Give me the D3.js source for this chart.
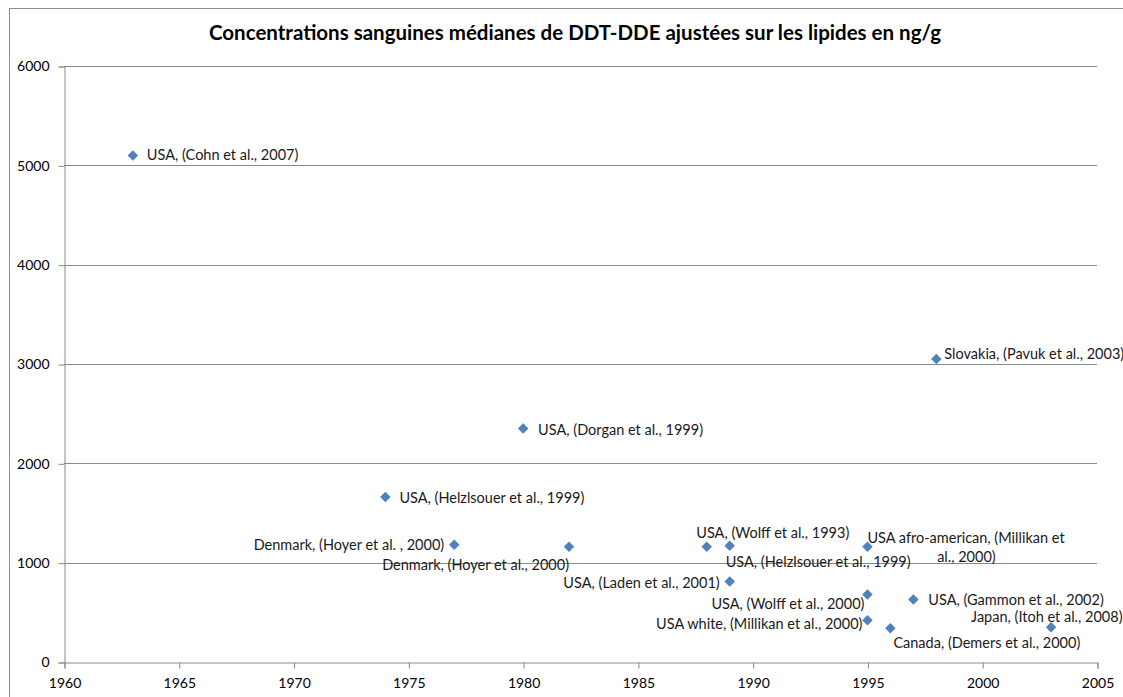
<!DOCTYPE html>
<html><head><meta charset="utf-8">
<script src="https://cdn.jsdelivr.net/npm/d3@7"></script>
<style>
html,body{margin:0;padding:0;background:#fff;}
svg text{font-family:Lato,"Open Sans",sans-serif;}
</style></head>
<body>
<svg id="c" width="1123" height="697"></svg>
<script>
const title = "Concentrations sanguines médianes de DDT-DDE ajustées sur les lipides en ng/g";
const years  = [1963, 1998, 1980, 1974, 1977, 1982, 1988, 1989, 1995, 1989, 1995, 1997, 1995, 1996, 2003];
const values = [5100, 3050, 2350, 1660, 1180, 1160, 1160, 1170, 1160, 810, 680, 630, 420, 340, 350];
const labels = [
  "USA, (Cohn et al., 2007)",
  "Slovakia, (Pavuk et al., 2003)",
  "USA, (Dorgan et al.,  1999)",
  "USA, (Helzlsouer et al., 1999)",
  "Denmark, (Hoyer et al. , 2000)",
  "Denmark, (Hoyer et al., 2000)",
  "USA, (Wolff et al., 1993)",
  "USA, (Helzlsouer et al., 1999)",
  "USA afro-american, (Millikan  et|al., 2000)",
  "USA, (Laden et al., 2001)",
  "USA, (Wolff et al., 2000)",
  "USA, (Gammon  et al., 2002)",
  "USA white, (Millikan  et al., 2000)",
  "Canada, (Demers et al., 2000)",
  "Japan, (Itoh  et al.,  2008)"
];
const xTicks = [1960, 1965, 1970, 1975, 1980, 1985, 1990, 1995, 2000, 2005];
const yTicks = [0, 1000, 2000, 3000, 4000, 5000, 6000];

// label placement (layout): [dx, dy, anchor]
const labelLayout = [
  [14, 5, "start"],
  [8, 0, "start"],
  [15, 6, "start"],
  [14, 6, "start"],
  [-10, 5, "end"],
  [0, 23, "end"],
  [66, -9, "middle"],
  [-4, 21, "start"],
  [0, -4, "start"],
  [-10, 6, "end"],
  [-3, 15, "end"],
  [15, 6, "start"],
  [-5, 9, "end"],
  [3, 20, "start"],
  [-80, -5, "start"]
];

const svg = d3.select("#c");
const x = d3.scaleLinear().domain([1960, 2005]).range([64, 1097]);
const y = d3.scaleLinear().domain([0, 6000]).range([662, 66]);

// chart border
svg.append("rect").attr("x", 9.5).attr("y", 8.5).attr("width", 1200).attr("height", 800)
  .attr("fill", "none").attr("stroke", "#8c8c8c").attr("stroke-width", 1);

svg.append("text").attr("x", 575).attr("y", 40).attr("text-anchor", "middle")
  .style("font-weight", "bold").style("font-size", "20.5px").attr("fill", "#000").text(title);

// gridlines
svg.append("g").selectAll("line").data(yTicks.filter(d => d > 0)).join("line")
  .attr("x1", 64).attr("x2", 1097).attr("y1", d => Math.round(y(d)) + 0.5).attr("y2", d => Math.round(y(d)) + 0.5)
  .attr("stroke", "#8a8a8a").attr("stroke-width", 1);

const yAxis = svg.append("g").attr("transform", "translate(64.5,0.5)")
  .call(d3.axisLeft(y).tickValues(yTicks).tickSize(6).tickPadding(9).tickFormat(d3.format("d")));
const xAxis = svg.append("g").attr("transform", "translate(0.5,662.5)")
  .call(d3.axisBottom(x).tickValues(xTicks).tickSize(6).tickPadding(10).tickFormat(d3.format("d")));
[yAxis, xAxis].forEach(g => {
  g.select(".domain").attr("stroke", "#8a8a8a");
  g.selectAll(".tick line").attr("stroke", "#8a8a8a");
  g.selectAll(".tick text").attr("fill", "#000").style("font-size", "14px").style("font-family", "Lato, sans-serif");
});

const pts = years.map((yr, i) => ({yr, v: values[i], label: labels[i], lay: labelLayout[i]}));

svg.append("g").selectAll("path").data(pts).join("path")
  .attr("transform", d => `translate(${x(d.yr)},${y(d.v)})`)
  .attr("d", d3.symbol().type(d3.symbolDiamond2).size(70))
  .attr("fill", "#4f81bd");

const lg = svg.append("g").style("font-size", "14.5px").attr("fill", "#1a1a1a");
pts.forEach(d => {
  const lines = d.label.split("|");
  const t = lg.append("text")
    .attr("x", x(d.yr) + d.lay[0]).attr("y", y(d.v) + d.lay[1])
    .attr("text-anchor", d.lay[2]);
  if (lines.length === 1) t.text(lines[0]);
  else {
    t.append("tspan").attr("x", x(d.yr) + d.lay[0]).text(lines[0]);
    t.append("tspan").attr("x", x(d.yr) + d.lay[0] + 99).attr("dy", 19).attr("text-anchor", "middle").text(lines[1]);
  }
});
</script>
</body></html>
